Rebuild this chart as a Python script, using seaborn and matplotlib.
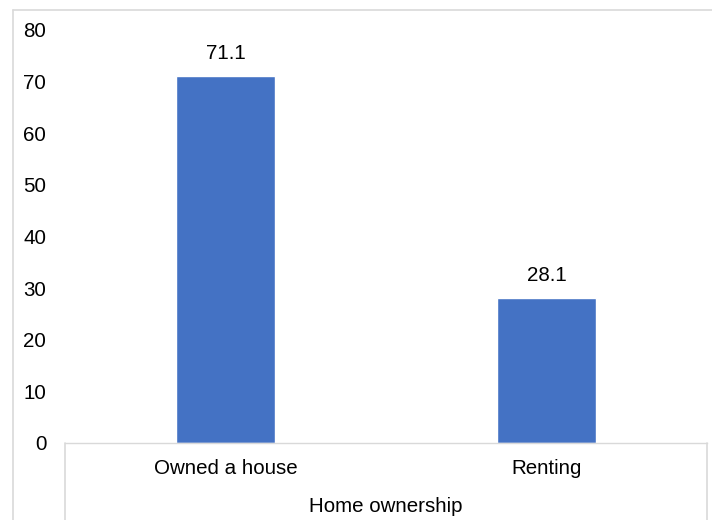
import matplotlib
matplotlib.use("Agg")
import matplotlib.pyplot as plt
import seaborn as sns
import pandas as pd
from matplotlib.lines import Line2D

categories = ["Owned a house", "Renting"]
values = [71.1, 28.1]
y_ticks = [0, 10, 20, 30, 40, 50, 60, 70, 80]
x_title = "Home ownership"

sns.set_theme(style="white")
plt.rcParams['font.family'] = ['Liberation Sans', 'DejaVu Sans']

df = pd.DataFrame({"cat": categories, "val": values})

FS = 14.8
W, H = 712, 520
fig = plt.figure(figsize=(W / 100, H / 100), dpi=100)
ax = fig.add_axes([65 / W, (H - 443) / H, (707 - 65) / W, (443 - 30) / H])

sns.barplot(data=df, x="cat", y="val", color="#4472C4", width=0.31,
            saturation=1, ax=ax)

ax.set_ylim(0, 80)
ax.set_yticks(y_ticks)
ax.set_yticklabels([str(t) for t in y_ticks], fontsize=FS, color="black")
ax.tick_params(axis="y", length=0, pad=13.5)
ax.tick_params(axis="x", length=0, pad=11.5, labelsize=FS, labelcolor="black")
ax.set_xlabel(x_title, fontsize=FS, color="black", labelpad=13.5)
ax.set_ylabel("")

for s in ["top", "right", "left"]:
    ax.spines[s].set_visible(False)
ax.spines["bottom"].set_color("#d9d9d9")
ax.spines["bottom"].set_linewidth(1)

for p, v in zip(ax.patches, values):
    ax.annotate(f"{v}", (p.get_x() + p.get_width() / 2, p.get_height()),
                xytext=(0, 9), textcoords="offset points",
                ha="center", va="bottom", fontsize=FS, color="black")

gray = "#d9d9d9"
def fl(x0, y0, x1, y1):
    fig.add_artist(Line2D([x0 / W, x1 / W], [1 - y0 / H, 1 - y1 / H],
                          color=gray, lw=1.2, transform=fig.transFigure))

# outer frame (cropped chart border)
fl(13, 10, 712, 10)
fl(13, 10, 13, 520)
# category axis box lines
fl(65, 443, 65, 520)
fl(707, 443, 707, 520)

fig.savefig("out.png", dpi=100)
